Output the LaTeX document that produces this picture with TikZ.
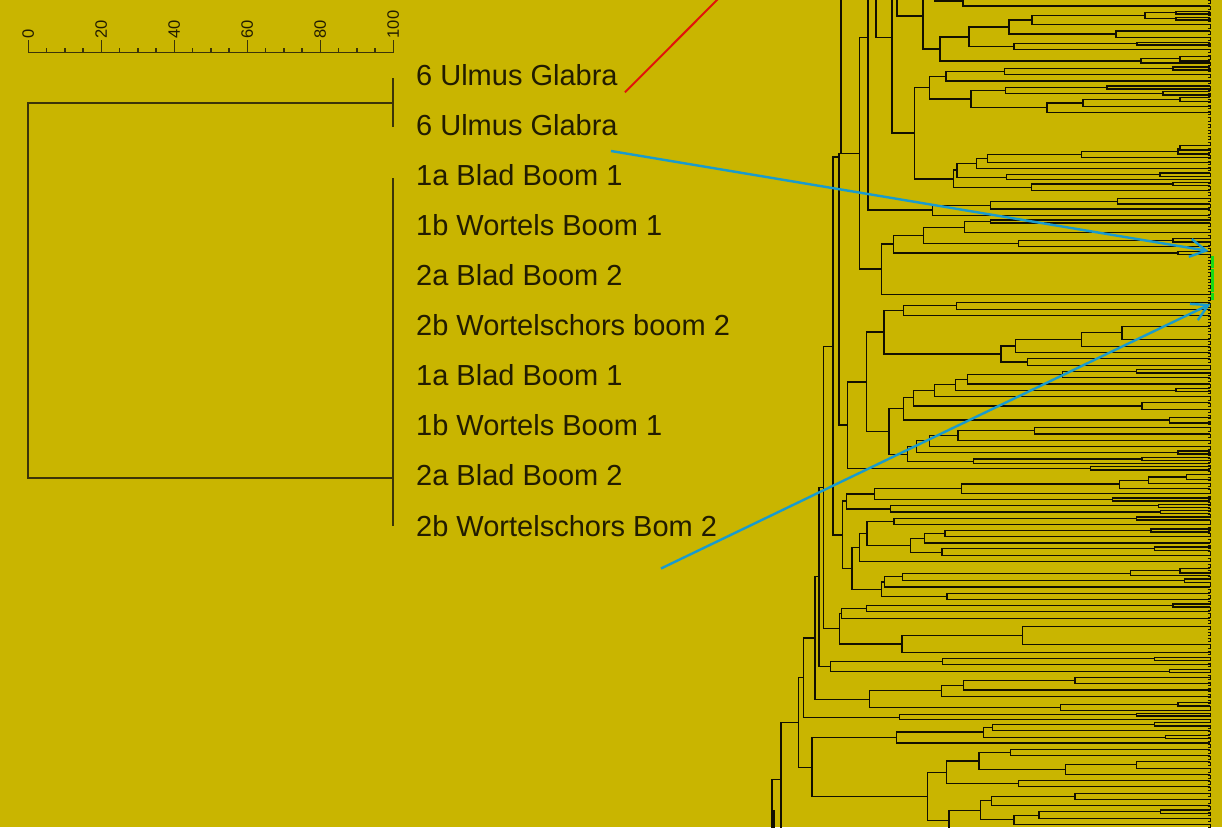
\documentclass[tikz,border=0pt]{standalone}
\usepackage{fontspec}
\setmainfont{Liberation Sans}
\usetikzlibrary{arrows.meta}
\definecolor{bg}{RGB}{201,181,0}
\definecolor{ink}{RGB}{34,28,0}
\definecolor{lline}{RGB}{60,52,8}
\definecolor{dline}{RGB}{18,16,0}
\definecolor{arrblue}{RGB}{25,155,205}
\definecolor{redline}{RGB}{225,20,10}
\definecolor{grn}{RGB}{20,220,20}
\tikzset{
  ld/.style={draw=lline,line width=1.8pt},
  dl/.style={draw=dline,line width=1.15pt},
  lbl/.style={anchor=base west,inner sep=0pt,text=ink,font=\fontsize{29}{30}\selectfont},
  scl/.style={anchor=west,inner sep=0pt,rotate=90,text=ink,font=\fontsize{16.5}{17}\selectfont},
  bluearrow/.style={draw=arrblue,line width=2.4pt,-{Straight Barb[length=16pt,width=18pt,line width=2.4pt]}},
}
\newcommand{\br}[5]{\draw[dl] (#3,#2) -- (#1,#2) -- (#1,#4) -- (#5,#4);}
\begin{document}
\begin{tikzpicture}[x=1pt,y=-1pt]
\useasboundingbox (0,0) rectangle (1222,827);
\fill[bg] (0,0) rectangle (1222,827);
\begin{scope}
\clip (0,0) rectangle (1222,827);
% ---------- scale ----------
\draw[ld,line width=1.5pt] (28.3,52.7) -- (393.3,52.7);
\foreach \k in {0,...,20} {\draw[ld,line width=1.4pt] ({28.3+18.25*\k},48) -- ({28.3+18.25*\k},52.7);}
\foreach \k/\t in {0/0,1/20,2/40,3/60,4/80,5/100} {
  \draw[ld,line width=1.4pt] ({28.3+73*\k},40) -- ({28.3+73*\k},52.7);
  \node[scl] (s\k) at ({28.3+73*\k},38.5) {\t};
}
% ---------- left dendrogram ----------
\draw[ld] (393,78.3) -- (393,126.7);
\draw[ld] (393,178.3) -- (393,525.5);
\draw[ld] (393,102.7) -- (28.3,102.7) -- (28.3,478) -- (393,478);
% ---------- labels ----------
\node[lbl] (l1) at (416,85) {6 Ulmus Glabra};
\node[lbl] (l2) at (416,135.2) {6 Ulmus Glabra};
\node[lbl] (l3) at (416,185.3) {1a Blad Boom 1};
\node[lbl] (l4) at (416,235.4) {1b Wortels Boom 1};
\node[lbl] (l5) at (416,285.5) {2a Blad Boom 2};
\node[lbl] (l6) at (416,335.6) {2b Wortelschors boom 2};
\node[lbl] (l7) at (416,385.7) {1a Blad Boom 1};
\node[lbl] (l8) at (416,435.8) {1b Wortels Boom 1};
\node[lbl] (l9) at (416,485.9) {2a Blad Boom 2};
\node[lbl] (l10) at (416,536) {2b Wortelschors Bom 2};
% ---------- right dendrogram ----------
% band 1
\draw[dl] (935,-20) -- (935,1) -- (963,1);
\br{963}{-1}{1210}{6}{1210}
\draw[dl] (897,-20) -- (897,16) -- (923,16);
\draw[dl] (923,-20) -- (923,49) -- (940,49);
\br{940}{37}{969}{61}{1141}
\br{969}{27}{1009}{46.3}{1014}
\br{1009}{20}{1032}{34}{1116}
\br{1032}{15.3}{1145}{24.7}{1210}
\br{1145}{12.7}{1176}{18.7}{1176}
\br{1176}{11.3}{1210}{14}{1210}
\br{1176}{17.3}{1210}{20}{1210}
\br{1116}{31}{1210}{37.3}{1210}
\br{1014}{43.7}{1137}{49.3}{1210}
\br{1137}{42.3}{1210}{45}{1210}
\br{1141}{58.7}{1180}{63}{1210}
\br{1180}{56.5}{1210}{61}{1210}
\draw[dl] (892,-20) -- (892,133) -- (914.3,133);
\draw[dl] (876,-20) -- (876,37.7) -- (892,37.7);
\draw[dl] (868,-20) -- (868,210) -- (932.7,210);
\br{859.3}{37.3}{868}{269}{881.3}
\br{914.3}{87.7}{929.3}{179}{953.3}
\br{929.3}{76.3}{946}{99}{971}
\br{946}{71.7}{1004.7}{81}{1210}
\br{1004.7}{68.7}{1173}{74.7}{1210}
\br{1173}{67}{1210}{70}{1210}
\br{971}{90.3}{1005.7}{107.7}{1047}
\br{1005.7}{87.7}{1107}{93.3}{1163}
\br{1107}{86}{1210}{89}{1210}
\br{1163}{91.7}{1210}{95}{1210}
\br{1047}{103}{1083}{112.3}{1210}
\br{1083}{99.3}{1180}{106.3}{1210}
\br{1180}{97.3}{1210}{101.3}{1210}
% band 2
\br{953.3}{170}{957}{187.3}{1031.7}
\br{957}{163.3}{976.7}{177.3}{1006.7}
\br{976.7}{158.3}{987.3}{168.3}{1210}
\br{987.3}{154.3}{1081.3}{162.3}{1210}
\br{1081.3}{151.3}{1178}{157.3}{1210}
\br{1178}{148.3}{1180}{154}{1210}
\br{1180}{145.5}{1210}{150}{1210}
\br{1006.7}{174.7}{1160}{179.7}{1210}
\br{1160}{173}{1210}{176.3}{1210}
\br{1031.7}{184}{1173}{190.3}{1210}
\br{1173}{182.3}{1210}{185.7}{1210}
\br{932.7}{205.7}{990.7}{215.3}{1210}
\br{990.7}{201.3}{1117.7}{209}{1210}
\br{1117.7}{198.3}{1210}{204}{1210}
\br{881.3}{244}{893.3}{294.7}{1210}
\br{893.3}{235.3}{923.7}{253}{1178}
\br{923.7}{227.3}{964.7}{243.3}{1018.3}
\br{964.7}{221.3}{990.7}{232.7}{1210}
\br{990.7}{220}{1210}{223}{1210}
\br{1018.3}{240.3}{1173}{246.3}{1210}
\br{1173}{238.7}{1210}{242}{1210}
\br{1178}{251.7}{1210}{254.3}{1210}
% top-level
\draw[dl] (841,-20) -- (841,153.7);
\br{839}{153.7}{859.3}{425}{847.7}
\br{833}{157}{839}{535}{842.3}
\br{823.3}{346.3}{833}{628.5}{839.3}
\br{819}{487.7}{823.3}{666.7}{830.3}
\br{815}{576.7}{819}{699.3}{869.7}
\br{803.7}{638}{815}{717.3}{899.3}
\br{798.7}{677.3}{803.7}{767.3}{812}
\draw[dl] (781,850) -- (781,722.3) -- (798.7,722.3);
\draw[dl] (772,850) -- (772,779.3) -- (781,779.3);
\draw[dl] (774,850) -- (774,810);
% band 3
\br{847.7}{382}{866.7}{468.3}{1090.3}
\br{866.7}{332}{884}{431.7}{889}
\br{884}{310.3}{903.3}{354}{1001}
\br{903.3}{305.7}{956.7}{315.3}{1210}
\br{956.7}{302.3}{1210}{309.3}{1210}
\br{1001}{346}{1015.7}{362}{1027.3}
\br{1015.7}{339.7}{1081.7}{352.3}{1210}
\br{1081.7}{332.7}{1122}{346.3}{1210}
\br{1122}{326.3}{1210}{339.3}{1210}
\br{1027.3}{358.7}{1210}{365.3}{1210}
\br{889}{408.7}{903.3}{454.7}{907.3}
\br{903.3}{397.7}{913.7}{420}{1169.3}
\br{913.7}{390.3}{934.7}{406}{1142}
\br{934.7}{384.7}{955.7}{396.3}{1210}
\br{955.7}{379.3}{967.3}{390.3}{1176}
\br{967.3}{374.7}{1062.3}{384}{1210}
\br{1062.3}{371.3}{1136.3}{377.7}{1210}
\br{1136.3}{369.7}{1210}{373}{1210}
\br{1176}{388.7}{1210}{391.7}{1210}
\br{1142}{402.3}{1210}{409.3}{1210}
\br{1169.3}{417.3}{1210}{423}{1210}
% band 4
\br{907.3}{446.3}{916.3}{461.3}{973.7}
\br{916.3}{440.7}{929.7}{452.3}{1178}
\br{929.7}{435.3}{958}{446.3}{1210}
\br{958}{430.7}{1034.7}{440.3}{1210}
\br{1034.7}{427.3}{1210}{434}{1210}
\br{1178}{451}{1210}{454}{1210}
\br{973.7}{459}{1142}{463.7}{1210}
\br{1142}{457.7}{1210}{460.3}{1210}
\br{1090.3}{466.3}{1210}{470}{1210}
\br{842.3}{501}{846.3}{568.3}{852}
\br{846.3}{494}{874.3}{509}{890.3}
\br{874.3}{488.7}{961.7}{499.3}{1112.3}
\br{961.7}{484}{1119.7}{493.3}{1210}
\br{1119.7}{480.7}{1148.7}{488.7}{1210}
\br{1148.7}{477}{1186.3}{483.7}{1210}
\br{1186.3}{474.3}{1210}{479.7}{1210}
\br{1112.3}{498}{1210}{501}{1210}
\br{890.3}{505.7}{1158.3}{512}{1160.3}
\br{1158.3}{504.2}{1210}{507.2}{1210}
\br{1160.3}{510.5}{1210}{513.5}{1210}
\br{852}{547.7}{859.3}{589.3}{881.3}
\br{859.3}{533.3}{867}{561.7}{1210}
\br{867}{521.3}{894}{545.7}{910.3}
\br{894}{518.3}{1136.3}{524.7}{1210}
\br{1136.3}{517}{1210}{520}{1210}
\br{910.3}{538.3}{924.3}{552.3}{942}
\br{924.3}{533.3}{945}{543}{1210}
\br{945}{530.3}{1151}{536.7}{1210}
\br{1151}{529}{1210}{532}{1210}
\br{942}{548.7}{1154.7}{555.7}{1210}
\br{1154.7}{547}{1210}{550.4}{1210}
% band 5
\br{881.3}{582}{884.7}{596.3}{947}
\br{884.7}{576.7}{902.7}{587}{1210}
\br{902.7}{573.3}{1130.3}{580.7}{1184.7}
\br{1130.3}{570.7}{1180}{575.7}{1210}
\br{1180}{568.3}{1210}{573}{1210}
\br{1184.7}{579}{1210}{582.4}{1210}
\br{947}{593.3}{1210}{599.3}{1210}
\br{839.3}{613.3}{841.7}{644}{902}
\br{841.7}{608.3}{866.7}{618.3}{1210}
\br{866.7}{605.3}{1173}{611.7}{1210}
\br{1173}{604}{1210}{607}{1210}
\br{902}{635.7}{1022.7}{652.3}{1210}
\br{1022.7}{626.7}{1210}{644.7}{1210}
\br{830.3}{661.7}{942.7}{671.3}{1169.3}
\br{942.7}{658.7}{1154.7}{664.7}{1210}
\br{1154.7}{657.3}{1210}{660.3}{1210}
\br{1169.3}{669.7}{1210}{672.7}{1210}
\br{869.7}{690.3}{941.7}{707.5}{1060.3}
\br{941.7}{685.3}{963.3}{696.3}{1210}
\br{963.3}{680.3}{1075}{690}{1210}
\br{1075}{677.3}{1210}{683.3}{1210}
\br{1060.3}{704.3}{1178}{710.3}{1210}
\br{1178}{702.3}{1210}{706}{1210}
% band 6
\br{899.3}{714.7}{1136.3}{719.3}{1210}
\br{1136.3}{713.3}{1210}{716}{1210}
\br{812}{737.7}{896.3}{796.3}{927.3}
\br{896.3}{732}{983.7}{743}{1210}
\br{983.7}{727.3}{992.7}{737.3}{1165.3}
\br{992.7}{724.3}{1154.7}{730.3}{1210}
\br{1154.7}{722.7}{1210}{726}{1210}
\br{1165.3}{735.3}{1210}{738.7}{1210}
\br{927.3}{772.3}{946.3}{820.3}{949}
\br{946.3}{761}{979}{783.7}{1018.3}
\br{979}{752.3}{1010.7}{769.7}{1065.3}
\br{1010.7}{749.3}{1210}{755.3}{1210}
\br{1065.3}{764.7}{1136.7}{774.3}{1210}
\br{1136.7}{761.7}{1210}{768.3}{1210}
\br{1018.3}{780.3}{1210}{786.7}{1210}
\br{949}{810.3}{980.3}{840}{1000}
\br{980.3}{800.7}{991.7}{819.3}{1014}
\br{991.7}{796.3}{1075}{805.7}{1210}
\br{1075}{793.7}{1210}{799.3}{1210}
\br{1014}{815.3}{1039}{824.3}{1210}
\br{1039}{811.7}{1160.3}{818.7}{1210}
\br{1160.3}{810}{1210}{813.3}{1210}
% leaf ticks
\foreach \i in {0,...,133} {
  \draw[dl,line width=0.9pt] (1207.5,{\i*6.2}) -- (1210,{\i*6.2}) -- (1210,{\i*6.2+3.2}) -- (1207.5,{\i*6.2+3.2});
}
% green marks
\fill[grn] (1211,256) rectangle (1214,268);
\fill[grn] (1211,269) rectangle (1214,292);
\fill[grn] (1211,293) rectangle (1214,299.5);
% red line
\coordinate (r1) at (625,92.3);
\coordinate (r2) at (720,-3);
\draw[draw=redline,line width=2pt] (r1) -- (r2);
% blue arrows
\coordinate (b1s) at (611,151);
\coordinate (b1e) at (1208.5,251);
\coordinate (b2s) at (661,568.5);
\coordinate (b2e) at (1210.5,304);
\draw[bluearrow] (b1s) -- (b1e);
\draw[bluearrow] (b2s) -- (b2e);
\end{scope}
\end{tikzpicture}
\end{document}
